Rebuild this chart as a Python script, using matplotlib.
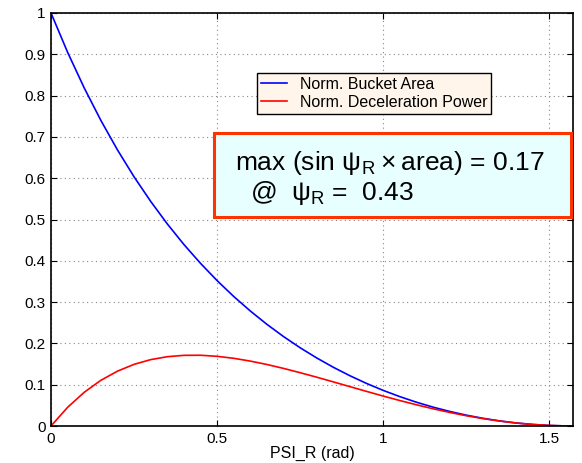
import numpy as np
import matplotlib
matplotlib.use('Agg')
import matplotlib.pyplot as plt
from matplotlib.patches import Rectangle

plt.rcParams['font.family'] = ['Liberation Sans', 'DejaVu Sans']
plt.rcParams['mathtext.fontset'] = 'custom'
plt.rcParams['mathtext.rm'] = 'Liberation Sans'

# values
psi = [0.0, 0.05, 0.1, 0.15, 0.2, 0.25, 0.3, 0.35, 0.4, 0.45, 0.5, 0.55, 0.6, 0.65,
       0.7, 0.75, 0.8, 0.85, 0.9, 0.95, 1.0, 1.05, 1.1, 1.15, 1.2, 1.25, 1.3, 1.35,
       1.4, 1.45, 1.5, 1.55, 1.5708]
bucketArea = [1.0, 0.9048, 0.8185, 0.7400, 0.6685, 0.6033, 0.5438, 0.4893, 0.4394,
              0.3938, 0.3519, 0.3135, 0.2783, 0.2460, 0.2164, 0.1893, 0.1646, 0.1420,
              0.1215, 0.1029, 0.0861, 0.0710, 0.0575, 0.0456, 0.0352, 0.0262, 0.0186,
              0.0123, 0.0073, 0.0037, 0.0013, 0.0001, 0.0]
decelPower = [0.0, 0.0452, 0.0817, 0.1106, 0.1328, 0.1493, 0.1607, 0.1678, 0.1711,
              0.1713, 0.1687, 0.1639, 0.1571, 0.1489, 0.1394, 0.1290, 0.1181, 0.1067,
              0.0952, 0.0837, 0.0724, 0.0616, 0.0513, 0.0416, 0.0328, 0.0248, 0.0179,
              0.0120, 0.0072, 0.0036, 0.0013, 0.0001, 0.0]
seriesNames = ['Norm. Bucket Area', 'Norm. Deceleration Power']
xTicks = [0, 0.5, 1, 1.5]
xTickLabels = ['0', '0.5', '1', '1.5']
yTicks = [0, 0.1, 0.2, 0.3, 0.4, 0.5, 0.6, 0.7, 0.8, 0.9, 1]
yTickLabels = ['0', '0.1', '0.2', '0.3', '0.4', '0.5', '0.6', '0.7', '0.8', '0.9', '1']

fig = plt.figure(figsize=(5.82, 4.63), dpi=100)
ax = fig.add_axes([51/582, 1 - 426/463, 522/582, 413/463])

ax.plot(psi, bucketArea, color='blue', linewidth=1.2, label=seriesNames[0])
ax.plot(psi, decelPower, color='red', linewidth=1.2, label=seriesNames[1])

ax.set_xlim(0, 1.5708)
ax.set_ylim(0, 1)
ax.set_xticks(xTicks)
ax.set_xticklabels(xTickLabels)
ax.set_yticks(yTicks)
ax.set_yticklabels(yTickLabels)
ax.tick_params(direction='in', labelsize=11, length=4, top=True, right=True, pad=4)
ax.grid(True, linestyle=(0, (1, 3)), color='#888888', linewidth=0.8)
for s in ax.spines.values():
    s.set_linewidth(1.2)
ax.set_xlabel('PSI_R (rad)', fontsize=11.5, labelpad=0)

leg = ax.legend(loc='upper left', bbox_to_anchor=(0.395, 0.855), fontsize=11.5,
                fancybox=False, framealpha=1, edgecolor='black', facecolor='#fff5ea',
                handlelength=1.6, borderpad=0.25, labelspacing=0.2, handletextpad=0.8,
                borderaxespad=0)
leg.get_frame().set_linewidth(1.0)

ax.add_patch(Rectangle((0.312, 0.506), 0.684, 0.203, transform=ax.transAxes,
                       facecolor='#e8ffff', edgecolor='#ff3300', linewidth=2.2,
                       zorder=5, clip_on=False))
ax.text(0.352, 0.620, r'max (sin ψ$_{\rm R}\times$area) = 0.17', transform=ax.transAxes,
        fontsize=19, va='baseline', ha='left', zorder=6)
ax.text(0.381, 0.547, r'@  ψ$_{\rm R}$ =  0.43', transform=ax.transAxes,
        fontsize=19, va='baseline', ha='left', zorder=6)

fig.savefig('out.png', dpi=100)
